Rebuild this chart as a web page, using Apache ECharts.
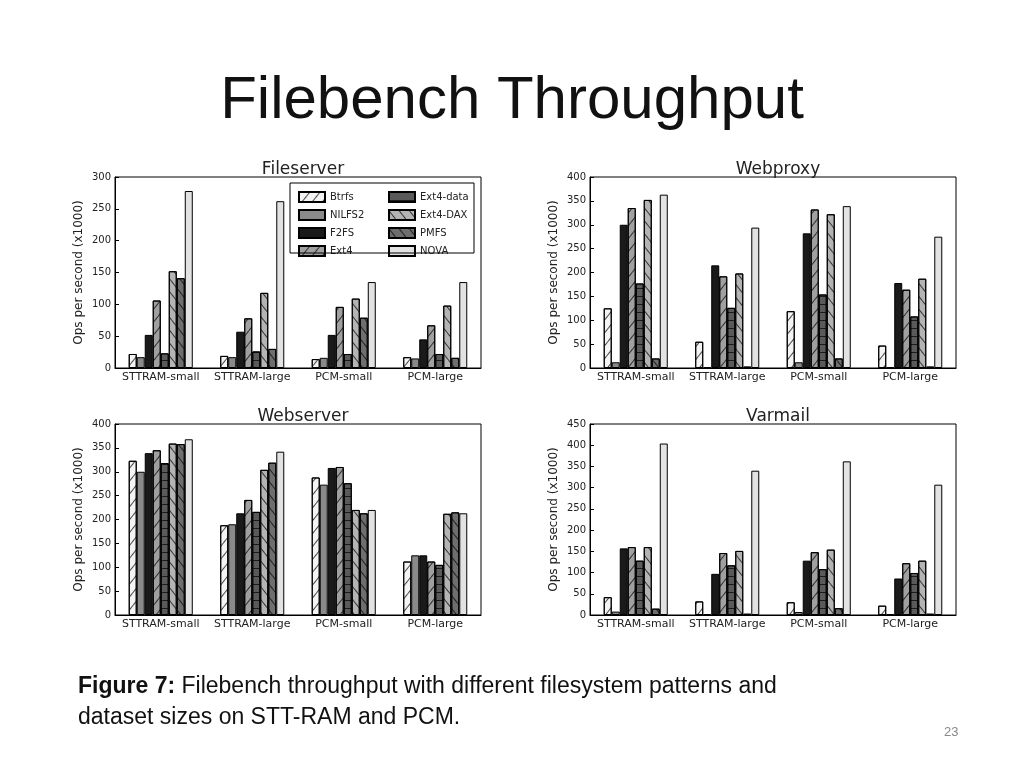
<!DOCTYPE html>
<html>
<head>
<meta charset="utf-8">
<script src="https://cdn.jsdelivr.net/npm/echarts@6/dist/echarts.min.js"></script>
<style>
  body { margin: 0; background: #fff; }
  #main { width: 1024px; height: 768px; }
</style>
</head>
<body>
<div id="main"></div>
<script>
const categories = ['STTRAM-small', 'STTRAM-large', 'PCM-small', 'PCM-large']
const fsNames = ['Btrfs', 'NILFS2', 'F2FS', 'Ext4', 'Ext4-data', 'Ext4-DAX', 'PMFS', 'NOVA']

// values per filesystem, one entry per category
const fileserver = [
  [22, 19, 14, 17],
  [17, 17, 16, 15],
  [52, 57, 52, 45],
  [106, 78, 96, 67],
  [23, 26, 22, 22],
  [152, 118, 109, 98],
  [141, 30, 79, 16],
  [278, 262, 135, 135],
]
const webproxy = [
  [125, 55, 119, 47],
  [12, 2, 12, 2],
  [300, 215, 282, 178],
  [335, 192, 332, 164],
  [177, 126, 154, 108],
  [352, 198, 322, 187],
  [20, 3, 20, 3],
  [363, 294, 339, 275],
]
const webserver = [
  [323, 188, 288, 112],
  [300, 190, 273, 125],
  [339, 213, 308, 125],
  [345, 241, 310, 112],
  [318, 216, 276, 105],
  [359, 304, 220, 212],
  [358, 319, 213, 215],
  [368, 342, 220, 213],
]
const varmail = [
  [42, 32, 30, 22],
  [8, 2, 7, 2],
  [157, 97, 128, 86],
  [160, 146, 148, 122],
  [128, 117, 108, 99],
  [160, 151, 154, 128],
  [15, 3, 16, 3],
  [404, 340, 362, 307],
]

const panels = [
  { title: 'Fileserver', data: fileserver, max: 300, left: 115, top: 177 },
  { title: 'Webproxy', data: webproxy, max: 400, left: 590, top: 177 },
  { title: 'Webserver', data: webserver, max: 400, left: 115, top: 424 },
  { title: 'Varmail', data: varmail, max: 450, left: 590, top: 424 },
]

const fills = ['#f4f4f4', '#8a8a8a', '#1a1a1a', '#a0a0a0', '#5a5a5a', '#b4b4b4', '#6e6e6e', '#e2e2e2']
const hatch = (rot) => ({ symbol: 'rect', symbolSize: 1, dashArrayX: [1, 0], dashArrayY: [1, 7], rotation: rot, color: 'rgba(0,0,0,0.7)' })
const decals = [hatch(-0.9), null, null, hatch(-0.9), hatch(0), hatch(0.9), hatch(0.9), null]

const chart = echarts.init(document.getElementById('main'))
const font = 'DejaVu Sans'

const option = {
  animation: false,
  textStyle: { fontFamily: font },
  title: [
    { text: 'Filebench Throughput', left: 'center', top: 66, textStyle: { fontFamily: 'Liberation Sans', fontSize: 60, fontWeight: 'normal', color: '#111' } },
  ],
  legend: [
    { data: fsNames.slice(0, 4), icon: 'rect', orient: 'vertical', left: 293, top: 186, itemWidth: 26, itemHeight: 10, itemGap: 6, textStyle: { fontSize: 10, color: '#222' } },
    { data: fsNames.slice(4), icon: 'rect', orient: 'vertical', left: 383, top: 186, itemWidth: 26, itemHeight: 10, itemGap: 6, textStyle: { fontSize: 10, color: '#222' } },
  ],
  grid: [],
  xAxis: [],
  yAxis: [],
  series: [],
  graphic: [
    { type: 'rect', shape: { x: 290, y: 183, width: 184, height: 70 }, style: { fill: 'none', stroke: '#000', lineWidth: 1 }, z: 10 },
    { type: 'text', left: 78, top: 671, style: { text: '{b|Figure 7:} Filebench throughput with different filesystem patterns and\ndataset sizes on STT-RAM and PCM.', font: '23px Liberation Sans', fill: '#111', lineHeight: 31, rich: { b: { font: 'bold 23px Liberation Sans', fill: '#111' } } } },
    { type: 'text', left: 944, top: 726, style: { text: '23', font: '13px Liberation Sans', fill: '#888' } },
  ],
}

panels.forEach((p, i) => {
  option.title.push({
    text: p.title, left: p.left + 183, top: p.top - 21, textAlign: 'center',
    textStyle: { fontSize: 17, fontWeight: 'normal', color: '#222', fontFamily: font },
  })
  option.grid.push({ left: p.left, top: p.top, width: 366, height: 191, show: true, borderColor: '#000', borderWidth: 1 })
  option.xAxis.push({
    gridIndex: i, type: 'category', data: categories,
    axisTick: { show: false }, axisLine: { lineStyle: { color: '#000' } },
    axisLabel: { color: '#222', fontSize: 11, margin: 4, interval: 0 },
  })
  option.yAxis.push({
    gridIndex: i, type: 'value', min: 0, max: p.max, interval: 50,
    name: 'Ops per second (x1000)', nameLocation: 'middle', nameGap: 30,
    nameTextStyle: { fontSize: 12, color: '#222' },
    axisLine: { show: true, lineStyle: { color: '#000' } },
    axisTick: { show: true, inside: true, length: 4, lineStyle: { color: '#000' } },
    axisLabel: { color: '#222', fontSize: 10, margin: 4 },
    splitLine: { show: false },
  })
  fsNames.forEach((name, k) => {
    option.series.push({
      name, type: 'bar', xAxisIndex: i, yAxisIndex: i,
      data: p.data[k], barGap: '0%', barCategoryGap: '30%',
      itemStyle: { color: fills[k], borderColor: '#000', borderWidth: 1, decal: decals[k] || undefined },
    })
  })
})

chart.setOption(option)
</script>
</body>
</html>
